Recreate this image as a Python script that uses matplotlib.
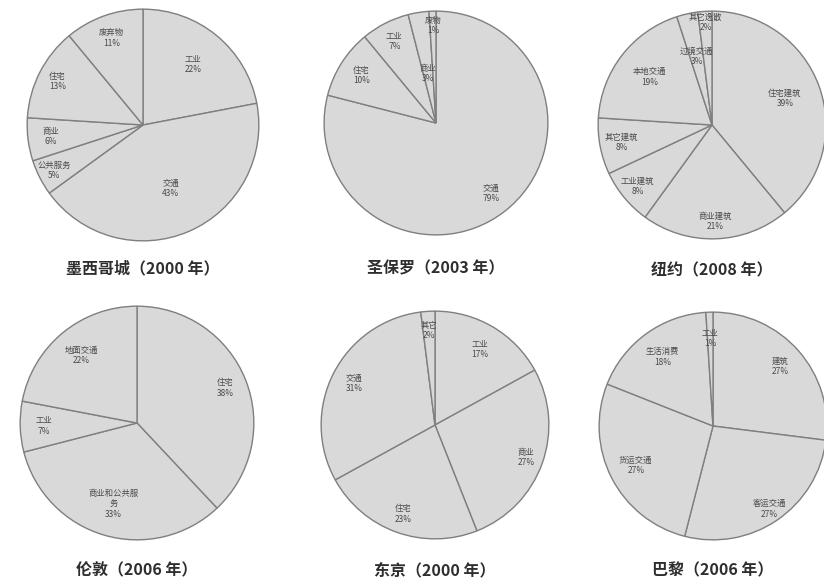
import numpy as np
import matplotlib
matplotlib.use("Agg")
import matplotlib.pyplot as plt

plt.rcParams['font.family'] = ['Noto Sans CJK SC', 'DejaVu Sans']

# ---- data (percent shares, clockwise from 12 o'clock) ----
mexico_labels = ['工业', '交通', '公共服务', '商业', '住宅', '废弃物']
mexico_values = [22, 43, 5, 6, 13, 11]

saopaulo_labels = ['交通', '住宅', '工业', '商业', '废物']
saopaulo_values = [79, 10, 7, 3, 1]

newyork_labels = ['住宅建筑', '商业建筑', '工业建筑', '其它建筑', '本地交通', '过境交通', '其它逸散']
newyork_values = [39, 21, 8, 8, 19, 3, 2]

london_labels = ['住宅', '商业和公共服\n务', '工业', '地面交通']
london_values = [38, 33, 7, 22]

tokyo_labels = ['工业', '商业', '住宅', '交通', '其它']
tokyo_values = [17, 27, 23, 31, 2]

paris_labels = ['建筑', '客运交通', '货运交通', '生活消费', '工业']
paris_values = [27, 27, 27, 18, 1]

titles = ['墨西哥城（2000 年）', '圣保罗（2003 年）', '纽约（2008 年）',
          '伦敦（2006 年）', '东京（2000 年）', '巴黎（2006 年）']

# ---- layout (pixels) ----
W, H = 824, 585
fig = plt.figure(figsize=(W / 100, H / 100), dpi=100)
fig.patch.set_facecolor('white')

panels = [
    # labels, values, center x, center y, radius, label radii, title y
    (mexico_labels, mexico_values, 143, 125, 117, [0.68, 0.6, 0.86, 0.8, 0.83, 0.8], 268),
    (saopaulo_labels, saopaulo_values, 436, 123, 113, [0.8, 0.79, 0.82, 0.45, 0.87], 268),
    (newyork_labels, newyork_values, 712, 125, 115, [0.68, 0.85, 0.85, 0.81, 0.69, 0.62, 0.9], 270),
    (london_labels, london_values, 137, 423, 118, [0.81, 0.72, 0.8, 0.75], 570),
    (tokyo_labels, tokyo_values, 435, 425, 115, [0.77, 0.85, 0.83, 0.8, 0.83], 570),
    (paris_labels, paris_values, 713, 426, 115, [0.79, 0.88, 0.76, 0.75, 0.77], 570),
]

fill = '#d9d9d9'
edge = '#7f7f7f'

for (labels, values, cx, cy, r, lr, ty), title in zip(panels, titles):
    ax = fig.add_axes([(cx - r) / W, 1 - (cy + r) / H, 2 * r / W, 2 * r / H])
    wedges, _ = ax.pie(values, startangle=90, counterclock=False,
                       colors=[fill] * len(values),
                       wedgeprops=dict(edgecolor=edge, linewidth=1.0))
    ax.set_xlim(-1.01, 1.01)
    ax.set_ylim(-1.01, 1.01)
    ax.set_aspect('equal')
    ax.axis('off')
    for w, lab, v, d in zip(wedges, labels, values, lr):
        ang = np.deg2rad((w.theta1 + w.theta2) / 2)
        ax.text(d * np.cos(ang), d * np.sin(ang), f'{lab}\n{v}%',
                ha='center', va='center', fontsize=6, color='#4a4a4a',
                linespacing=1.2)
    fig.text(cx / W, 1 - ty / H, title, ha='center', va='center',
             fontsize=11.5, color='#2e2e2e', fontweight='bold')

fig.savefig('out.png', dpi=100, facecolor='white')
